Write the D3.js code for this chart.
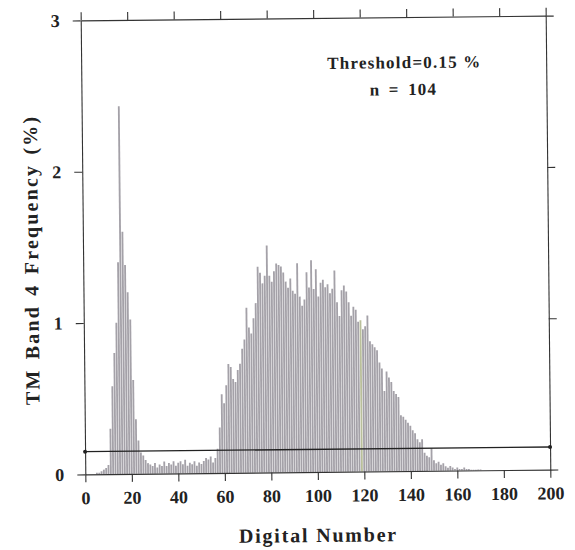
<!DOCTYPE html>
<html>
<head>
<meta charset="utf-8">
<script src="https://cdn.jsdelivr.net/npm/d3@7"></script>
<style>
  body { margin: 0; background: #fff; }
  .axis path, .axis line { stroke: #333; stroke-width: 1.1; }
  .axis text { font-family: "Liberation Serif", serif; font-weight: bold; font-size: 18px; fill: #222; }
  .title { font-family: "Liberation Serif", serif; font-weight: bold; fill: #222; }
</style>
</head>
<body>
<div id="chart"></div>
<script>
// TM band 4 histogram, digital number 0..170 (rest is zero)
const digitalNumbers = d3.range(0, 171);
const frequency = [
  0, 0, 0, 0, 0, 0.01, 0.01, 0.02, 0.03, 0.04,            // 0-9
  0.06, 0.30, 0.58, 0.80, 1.00, 1.40, 2.43, 1.60, 1.38, 1.20, // 10-19
  1.02, 0.62, 0.36, 0.22, 0.14, 0.12, 0.09, 0.07, 0.06, 0.05, // 20-29
  0.07, 0.04, 0.06, 0.05, 0.08, 0.05, 0.07, 0.06, 0.08, 0.05, // 30-39
  0.07, 0.08, 0.06, 0.09, 0.05, 0.07, 0.06, 0.08, 0.05, 0.07, // 40-49
  0.06, 0.08, 0.10, 0.09, 0.11, 0.07, 0.10, 0.16, 0.30, 0.52, // 50-59
  0.46, 0.58, 0.72, 0.70, 0.62, 0.60, 0.68, 0.72, 0.82, 0.88, // 60-69
  1.09, 0.96, 0.92, 1.02, 1.12, 1.36, 1.32, 1.25, 1.30, 1.50, // 70-79
  1.30, 1.26, 1.33, 1.38, 1.37, 1.36, 1.32, 1.26, 1.22, 1.28, // 80-89
  1.20, 1.18, 1.38, 1.16, 1.10, 1.14, 1.32, 1.22, 1.40, 1.21, // 90-99
  1.34, 1.16, 1.25, 1.27, 1.22, 1.24, 1.18, 1.21, 1.33, 1.12, // 100-109
  1.03, 1.20, 1.23, 1.19, 1.12, 1.03, 1.09, 1.07, 0.99, 1.00, // 110-119
  0.94, 0.96, 1.03, 0.86, 0.84, 0.82, 0.80, 0.72, 0.68, 0.53, // 120-129
  0.66, 0.62, 0.59, 0.53, 0.51, 0.49, 0.37, 0.36, 0.34, 0.32, // 130-139
  0.30, 0.27, 0.25, 0.21, 0.19, 0.21, 0.12, 0.10, 0.09, 0.15, // 140-149
  0.07, 0.05, 0.06, 0.04, 0.05, 0.03, 0.02, 0.03, 0.02, 0.01, // 150-159
  0.02, 0.01, 0.01, 0.02, 0.01, 0.01, 0.005, 0.005, 0.005, 0.005, // 160-169
  0.005                                                       // 170
];
const xTicks = d3.range(0, 201, 20);
const yTicks = [0, 1, 2, 3];
const threshold = 0.15;
const sampleCount = 104;
const tintedDN = 119;   // the faint greenish bar in the scan

const width = 575, height = 550;
const margin = {top: 18, right: 27, bottom: 78, left: 83};
const plotW = width - margin.left - margin.right;
const plotH = height - margin.top - margin.bottom;

const svg = d3.select("#chart").append("svg")
    .attr("width", width)
    .attr("height", height);

// the scanned figure is slightly tilted
const g = svg.append("g")
    .attr("transform", "rotate(-0.58, 316, 245) translate(" + margin.left + "," + margin.top + ")");

const x = d3.scaleLinear().domain([0, 200]).range([0, plotW]);
const y = d3.scaleLinear().domain([0, 3]).range([plotH, 0]);

const data = digitalNumbers.map((d, i) => ({dn: d, value: frequency[i]}));
const barW = x(1) - x(0);

// bars
g.append("g")
  .selectAll("rect")
  .data(data.filter(d => d.value > 0))
  .join("rect")
    .attr("x", d => x(d.dn) - barW / 2 + 0.25)
    .attr("width", barW - 0.5)
    .attr("y", d => y(d.value))
    .attr("height", d => y(0) - y(d.value))
    .attr("fill", d => d.dn === tintedDN ? "#b9bf9a" : "#a4a1a8");

// axes on all four sides, ticks pointing out
g.append("g")
    .attr("class", "axis")
    .attr("transform", "translate(0," + plotH + ")")
    .call(d3.axisBottom(x).tickValues(xTicks).tickSize(8).tickSizeOuter(0).tickPadding(9));

g.append("g")
    .attr("class", "axis")
    .call(d3.axisTop(x).tickValues(xTicks).tickSize(8).tickSizeOuter(0).tickFormat(""));

g.append("g")
    .attr("class", "axis")
    .call(d3.axisLeft(y).tickValues(yTicks).tickFormat(d3.format("d"))
        .tickSize(8).tickSizeOuter(0).tickPadding(13));

g.append("g")
    .attr("class", "axis")
    .attr("transform", "translate(" + plotW + ",0)")
    .call(d3.axisRight(y).tickValues(yTicks).tickSize(8).tickSizeOuter(0).tickFormat(""));

// threshold line with end dots
g.append("line")
    .attr("x1", x(0)).attr("x2", x(200))
    .attr("y1", y(threshold)).attr("y2", y(threshold))
    .attr("stroke", "#222")
    .attr("stroke-width", 1.4);

g.selectAll(".tdot")
  .data([0, 200])
  .join("circle")
    .attr("class", "tdot")
    .attr("cx", d => x(d))
    .attr("cy", y(threshold))
    .attr("r", 2)
    .attr("fill", "#222");

// annotation
g.append("text")
    .attr("class", "title")
    .attr("x", x(139))
    .attr("y", 51)
    .attr("text-anchor", "middle")
    .style("font-size", "17px")
    .style("letter-spacing", "1.2px")
    .text("Threshold=0.15 %");

g.append("text")
    .attr("class", "title")
    .attr("x", x(138.5))
    .attr("y", 78)
    .attr("text-anchor", "middle")
    .style("font-size", "17px")
    .style("letter-spacing", "1.2px")
    .style("word-spacing", "3px")
    .text("n = " + sampleCount);

// axis titles
g.append("text")
    .attr("class", "title")
    .attr("x", plotW / 2)
    .attr("y", plotH + 70)
    .attr("text-anchor", "middle")
    .style("font-size", "20px")
    .style("letter-spacing", "1.8px")
    .text("Digital Number");

g.append("text")
    .attr("class", "title")
    .attr("transform", "translate(-45," + (plotH / 2 + 12) + ") rotate(-90)")
    .attr("text-anchor", "middle")
    .style("font-size", "20px")
    .style("letter-spacing", "2.2px")
    .style("word-spacing", "2px")
    .text("TM Band 4 Frequency (%)");
</script>
</body>
</html>
